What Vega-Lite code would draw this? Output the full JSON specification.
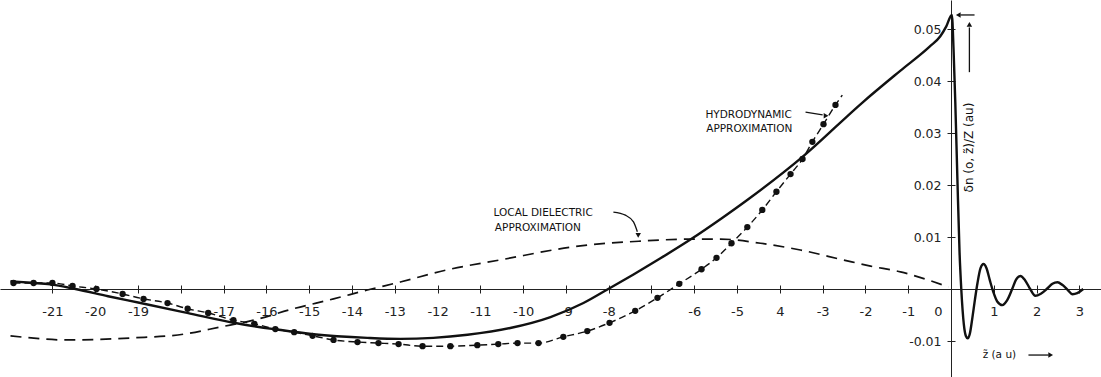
{
  "$schema": "https://vega.github.io/schema/vega-lite/v6.json",
  "width": 1101,
  "height": 377,
  "autosize": {"type": "none"},
  "padding": 0,
  "background": "white",
  "config": {"view": {"stroke": null}, "font": "DejaVu Sans", "axis": {"grid": false}},
  "datasets": {
    "exact": [
      {"x": -21.98, "y": 0.0015}, {"x": -21.5, "y": 0.0012}, {"x": -21.05, "y": 0.0009}, {"x": -20.46, "y": 0},
      {"x": -19.7, "y": -0.0014}, {"x": -18.94, "y": -0.0027}, {"x": -17.85, "y": -0.0046}, {"x": -16.77, "y": -0.0065},
      {"x": -15.74, "y": -0.0078}, {"x": -14.9, "y": -0.0087}, {"x": -13.64, "y": -0.0094}, {"x": -12.87, "y": -0.0096},
      {"x": -12.1, "y": -0.0094}, {"x": -11.3, "y": -0.0088}, {"x": -10.3, "y": -0.0075}, {"x": -9.36, "y": -0.0054},
      {"x": -8.59, "y": -0.0027}, {"x": -8.01, "y": 0}, {"x": -7.42, "y": 0.0028}, {"x": -6.79, "y": 0.0059},
      {"x": -6.09, "y": 0.0095}, {"x": -5.34, "y": 0.0137}, {"x": -4.73, "y": 0.0173}, {"x": -3.47, "y": 0.0254},
      {"x": -2.05, "y": 0.0360}, {"x": -1.18, "y": 0.0420}, {"x": -0.5, "y": 0.0466}, {"x": -0.25, "y": 0.0486}, {"x": -0.11, "y": 0.0505},
      {"x": 0.02, "y": 0.0527}, {"x": 0.06, "y": 0.046}, {"x": 0.1, "y": 0.036}, {"x": 0.15, "y": 0.021},
      {"x": 0.2, "y": 0.007}, {"x": 0.24, "y": 0}, {"x": 0.3, "y": -0.0068}, {"x": 0.35, "y": -0.0091},
      {"x": 0.39, "y": -0.0095}, {"x": 0.44, "y": -0.0086}, {"x": 0.5, "y": -0.0055}, {"x": 0.56, "y": -0.002},
      {"x": 0.62, "y": 0.0012}, {"x": 0.69, "y": 0.004}, {"x": 0.76, "y": 0.0048}, {"x": 0.83, "y": 0.004},
      {"x": 0.91, "y": 0.0016}, {"x": 0.99, "y": -0.0006}, {"x": 1.08, "y": -0.0024}, {"x": 1.2, "y": -0.0031},
      {"x": 1.31, "y": -0.0022}, {"x": 1.43, "y": 0}, {"x": 1.52, "y": 0.0018}, {"x": 1.62, "y": 0.0025},
      {"x": 1.73, "y": 0.0017}, {"x": 1.85, "y": 0}, {"x": 1.97, "y": -0.0013}, {"x": 2.1, "y": -0.0009},
      {"x": 2.25, "y": 0.0001}, {"x": 2.37, "y": 0.001}, {"x": 2.49, "y": 0.0013}, {"x": 2.6, "y": 0.0008},
      {"x": 2.72, "y": -0.0001}, {"x": 2.84, "y": -0.001}, {"x": 2.95, "y": -0.0008}, {"x": 3.09, "y": 0}
    ],
    "dielectric": [
      {"x": -21.98, "y": -0.009}, {"x": -20.65, "y": -0.0098}, {"x": -19.11, "y": -0.0094}, {"x": -17.94, "y": -0.0087},
      {"x": -17.07, "y": -0.0073}, {"x": -16.3, "y": -0.006}, {"x": -15.37, "y": -0.0038}, {"x": -14.43, "y": -0.0019},
      {"x": -13.64, "y": -0.0002}, {"x": -12.87, "y": 0.00135}, {"x": -11.77, "y": 0.0037}, {"x": -10.53, "y": 0.0056},
      {"x": -8.66, "y": 0.0083}, {"x": -7.26, "y": 0.0092}, {"x": -6.09, "y": 0.0096}, {"x": -5.39, "y": 0.0096},
      {"x": -4.45, "y": 0.0088}, {"x": -3.52, "y": 0.0075}, {"x": -2.52, "y": 0.0056}, {"x": -1.88, "y": 0.0044},
      {"x": -1.18, "y": 0.0033}, {"x": -0.6, "y": 0.0019}, {"x": -0.06, "y": 0.0004}
    ],
    "hydro": [
      {"x": -21.91, "y": 0.00115, "pt": true}, {"x": -21.44, "y": 0.00115, "pt": true}, {"x": -21.0, "y": 0.00115, "pt": true},
      {"x": -20.53, "y": 0.00058, "pt": true}, {"x": -19.97, "y": 0, "pt": true}, {"x": -19.36, "y": -0.00096, "pt": true},
      {"x": -18.87, "y": -0.0019, "pt": true}, {"x": -18.31, "y": -0.0027, "pt": true}, {"x": -17.84, "y": -0.0038, "pt": true},
      {"x": -17.36, "y": -0.0046, "pt": true}, {"x": -16.77, "y": -0.006, "pt": true}, {"x": -16.28, "y": -0.0067, "pt": true},
      {"x": -15.79, "y": -0.0077, "pt": true}, {"x": -15.35, "y": -0.0083, "pt": true}, {"x": -14.92, "y": -0.009, "pt": true},
      {"x": -14.43, "y": -0.0098, "pt": true}, {"x": -13.87, "y": -0.0102, "pt": true}, {"x": -13.38, "y": -0.0104, "pt": true},
      {"x": -12.91, "y": -0.0106, "pt": true}, {"x": -12.35, "y": -0.011, "pt": true}, {"x": -11.7, "y": -0.011, "pt": true},
      {"x": -11.07, "y": -0.0108, "pt": true}, {"x": -10.58, "y": -0.0106, "pt": true}, {"x": -10.13, "y": -0.0104, "pt": true},
      {"x": -9.64, "y": -0.0104, "pt": true}, {"x": -9.06, "y": -0.0092, "pt": true}, {"x": -8.5, "y": -0.0081, "pt": true},
      {"x": -7.98, "y": -0.0065, "pt": true}, {"x": -7.38, "y": -0.0042, "pt": true}, {"x": -6.86, "y": -0.0017, "pt": true},
      {"x": -6.35, "y": 0.001, "pt": true}, {"x": -5.83, "y": 0.0038, "pt": true}, {"x": -5.48, "y": 0.006, "pt": true},
      {"x": -5.13, "y": 0.0088, "pt": true}, {"x": -4.76, "y": 0.0119, "pt": true}, {"x": -4.41, "y": 0.0152, "pt": true},
      {"x": -4.08, "y": 0.0187, "pt": true}, {"x": -3.75, "y": 0.0221, "pt": true}, {"x": -3.47, "y": 0.025, "pt": true},
      {"x": -3.24, "y": 0.0283, "pt": true}, {"x": -2.98, "y": 0.0317, "pt": true}, {"x": -2.7, "y": 0.0354, "pt": true},
      {"x": -2.54, "y": 0.0373, "pt": false}
    ],
    "labels": [
      {"label": "LOCAL DIELECTRIC", "x": -10.69, "y": 0.0147},
      {"label": "APPROXIMATION", "x": -10.66, "y": 0.0118},
      {"label": "HYDRODYNAMIC", "x": -5.74, "y": 0.0335},
      {"label": "APPROXIMATION", "x": -5.72, "y": 0.0308},
      {"label": "z̃ (a u)", "x": 0.74, "y": -0.0127}
    ],
    "arrows": [
      {"id": "ld", "x": -7.89, "y": 0.0148}, {"id": "ld", "x": -7.61, "y": 0.0142}, {"id": "ld", "x": -7.42, "y": 0.0129}, {"id": "ld", "x": -7.33, "y": 0.011},
      {"id": "hd", "x": -3.4, "y": 0.034}, {"id": "hd", "x": -3.0, "y": 0.0335},
      {"id": "top", "x": 0.22, "y": 0.0527}, {"id": "top", "x": 0.55, "y": 0.0527},
      {"id": "ytitle", "x": 0.43, "y": 0.0417}, {"id": "ytitle", "x": 0.43, "y": 0.0503},
      {"id": "xtitle", "x": 1.81, "y": -0.0127}, {"id": "xtitle", "x": 2.28, "y": -0.0127}
    ],
    "heads": [
      {"x": -7.31, "y": 0.0103, "dir": "S"},
      {"x": -2.92, "y": 0.0333, "dir": "E"},
      {"x": 0.17, "y": 0.0527, "dir": "W"},
      {"x": 0.43, "y": 0.0509, "dir": "N"},
      {"x": 2.33, "y": -0.0127, "dir": "E"}
    ],
    "ytitle": [
      {"label": "δn (o, z̃)/Z    (au)", "x": 0.42, "y": 0.0272}
    ]
  },
  "resolve": {"axis": {"x": "independent", "y": "independent"}},
  "layer": [
    {
      "data": {"name": "exact"},
      "mark": {"type": "line", "color": "#111", "strokeWidth": 2.4, "interpolate": "monotone"},
      "encoding": {
        "x": {"field": "x", "type": "quantitative",
          "scale": {"domain": [-22.225, 3.5055], "nice": false, "zero": false},
          "axis": {"orient": "bottom", "offset": -88, "title": null,
            "values": [-21,-20,-19,-18,-17,-16,-15,-14,-13,-12,-11,-10,-9,-8,-7,-6,-5,-4,-3,-2,-1,0,1,2,3],
            "labelExpr": "datum.value == -18 || datum.value == -7 ? '' : datum.value == -4 ? '4' : '' + datum.value",
            "labelOffset": {"condition": {"test": "datum.value == 0", "value": -13}, "value": 0},
            "tickSize": 4, "tickColor": "#222", "domainColor": "#222", "domainWidth": 1,
            "labelFontSize": 13, "labelColor": "#222", "labelPadding": 12,
            "labelFlush": false, "labelOverlap": false, "labelBound": false}},
        "y": {"field": "y", "type": "quantitative",
          "scale": {"domain": [-0.016923, 0.055577], "nice": false, "zero": false},
          "axis": {"orient": "left", "offset": -951, "title": null,
            "values": [-0.01, 0.01, 0.02, 0.03, 0.04, 0.05],
            "labelExpr": "datum.value < 0 ? '-0.01' : format(datum.value, '.2f')",
            "tickSize": 4, "tickColor": "#222", "domainColor": "#222", "domainWidth": 1,
            "labelFontSize": 12.5, "labelColor": "#222", "labelPadding": 6,
            "labelFlush": false, "labelOverlap": false, "labelBound": false}}
      }
    },
    {
      "data": {"name": "dielectric"},
      "mark": {"type": "line", "color": "#111", "strokeWidth": 1.7, "strokeDash": [11, 7], "interpolate": "monotone"},
      "encoding": {
        "x": {"field": "x", "type": "quantitative",
          "axis": {"orient": "top", "offset": -289, "title": null, "labels": false, "domain": false,
            "values": [-21,-20,-19,-18,-17,-16,-15,-14,-13,-12,-11,-10,-9,-8,-7,-6,-5,-4,-3,-2,-1,0,1,2,3],
            "tickSize": 4, "tickColor": "#222"}},
        "y": {"field": "y", "type": "quantitative",
          "axis": {"orient": "right", "offset": -150, "title": null, "labels": false, "domain": false,
            "values": [-0.01, 0.01, 0.02, 0.03, 0.04, 0.05],
            "tickSize": 4, "tickColor": "#222"}}
      }
    },
    {
      "data": {"name": "hydro"},
      "mark": {"type": "line", "color": "#111", "strokeWidth": 1.4, "strokeDash": [7, 4], "interpolate": "monotone"},
      "encoding": {
        "x": {"field": "x", "type": "quantitative", "axis": null},
        "y": {"field": "y", "type": "quantitative", "axis": null}
      }
    },
    {
      "data": {"name": "hydro"},
      "transform": [{"filter": "datum.pt"}],
      "mark": {"type": "point", "filled": true, "color": "#111", "opacity": 1, "size": 40},
      "encoding": {
        "x": {"field": "x", "type": "quantitative", "axis": null},
        "y": {"field": "y", "type": "quantitative", "axis": null}
      }
    },
    {
      "data": {"name": "arrows"},
      "mark": {"type": "line", "color": "#111", "strokeWidth": 1.3, "interpolate": "monotone"},
      "encoding": {
        "x": {"field": "x", "type": "quantitative", "axis": null},
        "y": {"field": "y", "type": "quantitative", "axis": null},
        "detail": {"field": "id", "type": "nominal"}
      }
    },
    {
      "data": {"name": "heads"},
      "mark": {"type": "point", "filled": true, "color": "#111", "opacity": 1, "size": 30},
      "encoding": {
        "x": {"field": "x", "type": "quantitative", "axis": null},
        "y": {"field": "y", "type": "quantitative", "axis": null},
        "shape": {"field": "dir", "type": "nominal", "legend": null,
          "scale": {"domain": ["N", "E", "S", "W"], "range": ["triangle-up", "triangle-right", "triangle-down", "triangle-left"]}}
      }
    },
    {
      "data": {"name": "labels"},
      "mark": {"type": "text", "align": "left", "baseline": "middle", "fontSize": 10.5, "color": "#111"},
      "encoding": {
        "x": {"field": "x", "type": "quantitative", "axis": null},
        "y": {"field": "y", "type": "quantitative", "axis": null},
        "text": {"field": "label", "type": "nominal"}
      }
    },
    {
      "data": {"name": "ytitle"},
      "mark": {"type": "text", "align": "center", "baseline": "middle", "fontSize": 12, "angle": 270, "color": "#111"},
      "encoding": {
        "x": {"field": "x", "type": "quantitative", "axis": null},
        "y": {"field": "y", "type": "quantitative", "axis": null},
        "text": {"field": "label", "type": "nominal"}
      }
    }
  ]
}
